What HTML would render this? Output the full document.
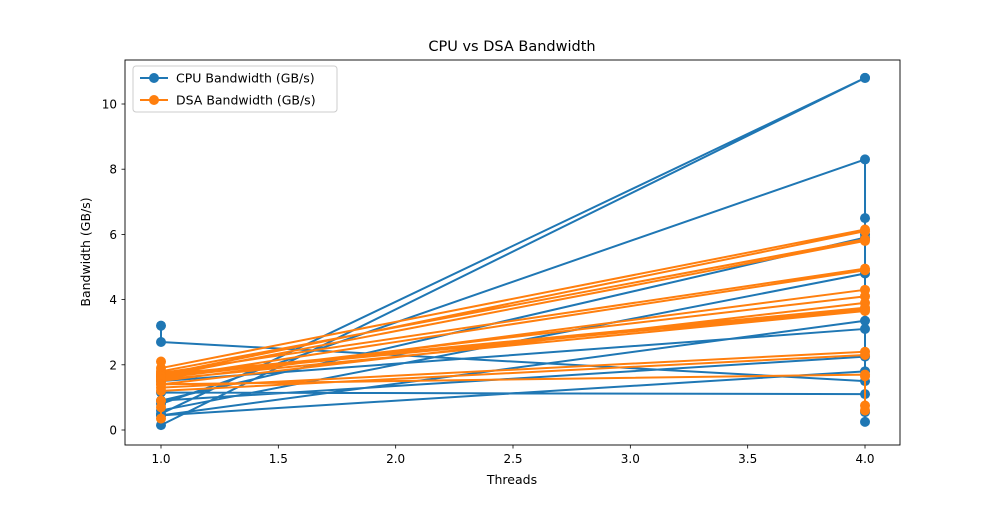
<!DOCTYPE html>
<html><head><meta charset="utf-8"><style>
body{margin:0;background:#fff;font-family:"Liberation Sans","DejaVu Sans",sans-serif}
text{font-family:"DejaVu Sans","Liberation Sans",sans-serif}
</style></head><body>
<svg id="chart" width="1000" height="500" xmlns="http://www.w3.org/2000/svg">
<rect width="1000" height="500" fill="#fff"/>
<text x="512" y="51" font-size="14.5" text-anchor="middle">CPU vs DSA Bandwidth</text>
<g id="grid"></g>
<g id="series"></g>
<rect x="125" y="60" width="775" height="385" fill="none" stroke="#000" stroke-width="0.9"/>
<text x="512" y="484" font-size="12.5" text-anchor="middle">Threads</text>
<text transform="translate(90,252) rotate(-90)" font-size="12.5" text-anchor="middle">Bandwidth (GB/s)</text>
<g>
<rect x="133" y="66" width="204" height="46" rx="3" fill="#fff" fill-opacity="0.8" stroke="#ccc"/>
<line x1="140" y1="78" x2="168" y2="78" stroke="#1f77b4" stroke-width="2"/><circle cx="154" cy="78" r="5" fill="#1f77b4"/>
<text x="176" y="82.5" font-size="12.5">CPU Bandwidth (GB/s)</text>
<line x1="140" y1="100" x2="168" y2="100" stroke="#ff7f0e" stroke-width="2"/><circle cx="154" cy="100" r="5" fill="#ff7f0e"/>
<text x="176" y="104.5" font-size="12.5">DSA Bandwidth (GB/s)</text>
</g>
</svg>
<script>
const xTicks=[1.0,1.5,2.0,2.5,3.0,3.5,4.0];
const xTickLabels=["1.0","1.5","2.0","2.5","3.0","3.5","4.0"];
const yTicks=[0,2,4,6,8,10];
const cpuX=[1,1,4,4,1,1,4,4,1,1,4,4,1,1,4,4,1,1,4,4,1,1,4,4,4,4,4];
const cpuY=[3.2,2.7,1.5,1.1,1.15,0.15,10.8,10.8,0.5,0.8,8.3,5.9,0.9,0.6,4.8,3.35,0.45,1.5,3.1,2.25,0.9,0.45,1.8,6.5,6.0,0.55,0.25];
const dsaX=[1,1,1,1,1,4,4,1,1,4,4,1,1,4,4,1,1,4,4,1,1,4,4,1,1,4,4,1,1,4,4,1,1,4,4,4,4];
const dsaY=[0.35,0.7,0.9,2.1,1.9,6.15,6.1,1.7,1.8,5.85,5.8,1.65,1.75,4.95,4.9,1.6,1.5,4.3,4.1,1.6,1.4,3.9,3.75,1.7,1.65,3.7,3.65,1.55,1.3,2.4,2.3,1.2,1.4,1.7,1.65,0.75,0.6];
const sx=v=>161+(v-1)*234.67;
const sy=v=>430-v*32.6;
const NS="http://www.w3.org/2000/svg";
const grid=document.getElementById('grid');
function mk(t,a,p){const e=document.createElementNS(NS,t);for(const k in a)e.setAttribute(k,a[k]);p.appendChild(e);return e;}
xTicks.forEach((v,i)=>{
  const l=mk('line',{x1:sx(v),x2:sx(v),y1:445,y2:448.5,stroke:'#000','stroke-width':0.8},grid);
  
  
  const t=mk('text',{x:sx(v),y:463,'font-size':12,'text-anchor':'middle'},grid);
  t.textContent=xTickLabels[i];
  
  
});
yTicks.forEach(v=>{
  const l=mk('line',{x1:121.5,x2:125,y1:sy(v),y2:sy(v),stroke:'#000','stroke-width':0.8},grid);
  
  
  const t=mk('text',{x:117,y:sy(v)+4.5,'font-size':12,'text-anchor':'end'},grid);
  t.textContent=String(v);
  
  
});
const g=document.getElementById('series');
function draw(xs,ys,color,name){
  const pl=mk('polyline',{points:xs.map((x,i)=>sx(x)+','+sy(ys[i])).join(' '),fill:'none',stroke:color,'stroke-width':2,'stroke-linejoin':'round'},g);
  
  
  xs.forEach((x,i)=>{
    const c=mk('circle',{cx:sx(x),cy:sy(ys[i]),r:5,fill:color},g);
    
    
  });
}
draw(cpuX,cpuY,'#1f77b4','cpu-bandwidth');
draw(dsaX,dsaY,'#ff7f0e','dsa-bandwidth');
</script>
</body></html>
